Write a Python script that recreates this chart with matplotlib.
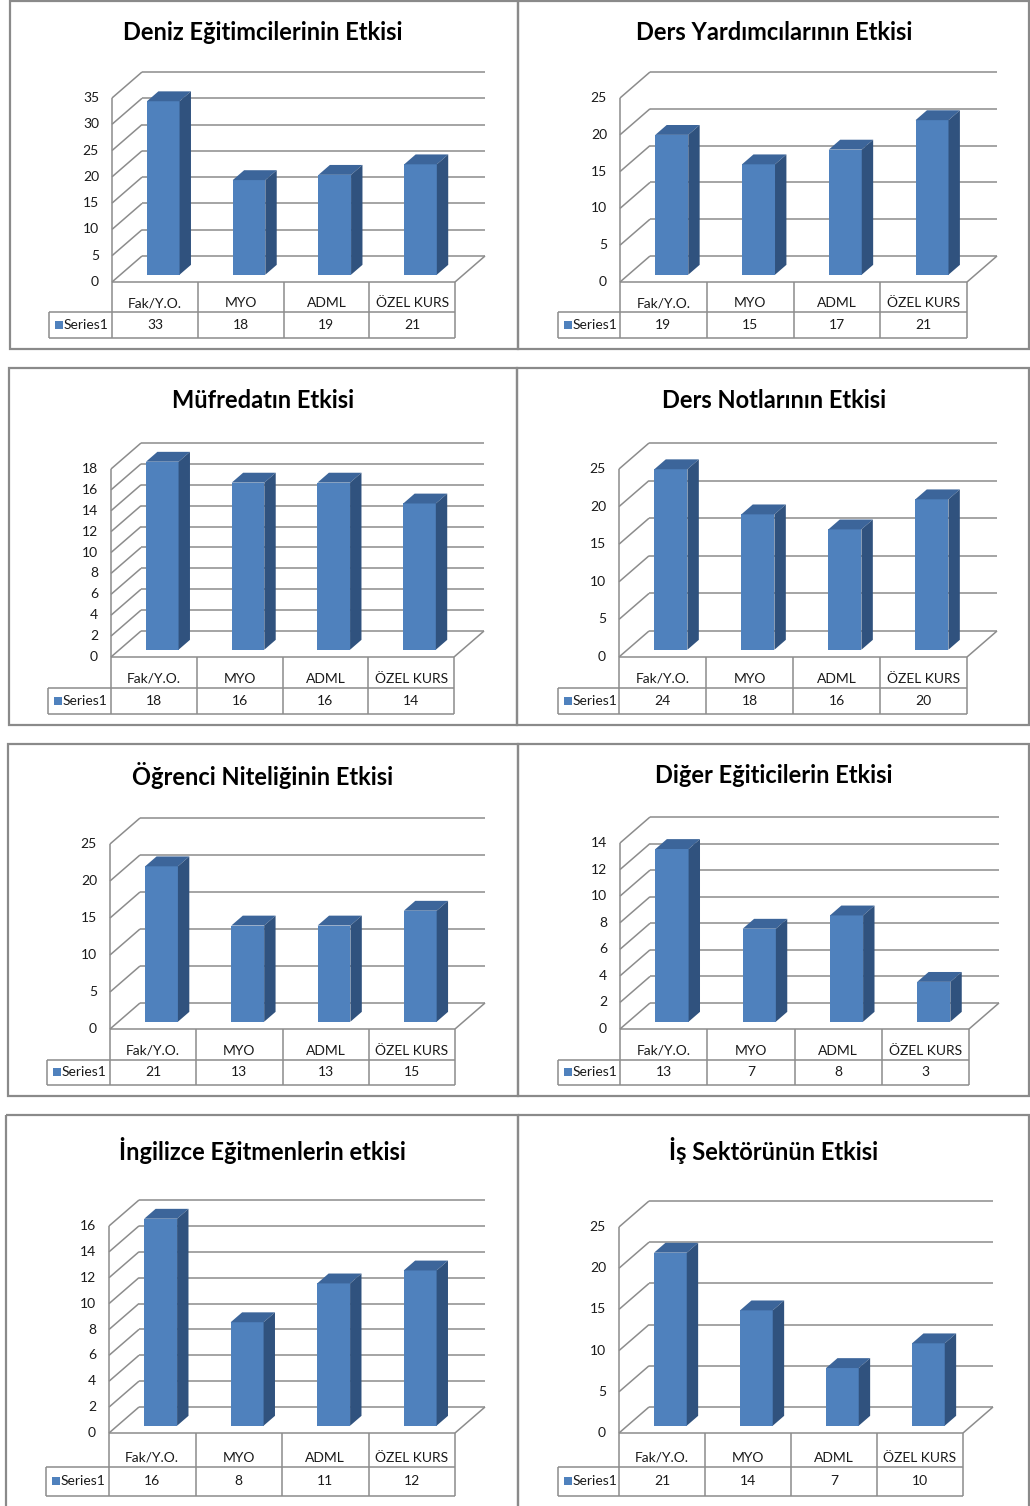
import matplotlib
matplotlib.use("Agg")
import matplotlib.pyplot as plt
from matplotlib.patches import Polygon, Rectangle
from matplotlib.transforms import Affine2D, blended_transform_factory

# survey results: influence of each factor per school type
categories = ["Fak/Y.O.", "MYO", "ADML", "ÖZEL KURS"]
series_name = "Series1"

titles = [
    "Deniz Eğitimcilerinin Etkisi",
    "Ders Yardımcılarının Etkisi",
    "Müfredatın Etkisi",
    "Ders Notlarının Etkisi",
    "Öğrenci Niteliğinin Etkisi",
    "Diğer Eğiticilerin Etkisi",
    "İngilizce Eğitmenlerin etkisi",
    "İş Sektörünün Etkisi",
]

deniz = [33, 18, 19, 21]
ders_yardimci = [19, 15, 17, 21]
mufredat = [18, 16, 16, 14]
ders_notlari = [24, 18, 16, 20]
ogrenci = [21, 13, 13, 15]
diger = [13, 7, 8, 3]
ingilizce = [16, 8, 11, 12]
is_sektoru = [21, 14, 7, 10]

# y-axis maximum and tick step of each chart
y_max = [35, 25, 18, 25, 25, 14, 16, 25]
y_step = [5, 5, 2, 5, 5, 2, 2, 5]

values = [deniz, ders_yardimci, mufredat, ders_notlari,
          ogrenci, diger, ingilizce, is_sektoru]

W, H = 1030, 1506
fig = plt.figure(figsize=(W / 100, H / 100), dpi=100)
fig.patch.set_facecolor("white")
plt.rcParams["font.family"] = ["Liberation Sans Narrow", "Lato", "DejaVu Sans"]

# pixel coordinates, origin at the top-left corner
pix = Affine2D().scale(1 / W, -1 / H).translate(0, 1) + fig.transFigure

GRID = "#8c8c8c"
FRONT = "#4f81bd"
TOP = "#3c659a"
SIDE = "#30527e"
TXT = "#1a1a1a"

# layout of each chart: plot area x0, x1, floor y, top y, frame, legend cell left, table rows
layout = [
    dict(x0=112, x1=455, yf=282, yt=98, box=(10, 1, 518, 349), cx=263, ty=32, lg=49, r1=312, r2=338),
    dict(x0=620, x1=967, yf=282, yt=98, box=(518, 1, 1029, 349), cx=774, ty=32, lg=558, r1=312, r2=338),
    dict(x0=111, x1=454, yf=657, yt=469, box=(9, 368, 517, 725), cx=263, ty=401, lg=48, r1=688, r2=714),
    dict(x0=619, x1=967, yf=657, yt=469, box=(517, 368, 1029, 725), cx=774, ty=401, lg=558, r1=688, r2=714),
    dict(x0=110, x1=455, yf=1029, yt=844, box=(8, 744, 518, 1096), cx=263, ty=776, lg=47, r1=1060, r2=1085),
    dict(x0=620, x1=969, yf=1029, yt=843, box=(518, 744, 1029, 1096), cx=774, ty=776, lg=558, r1=1060, r2=1085),
    dict(x0=109, x1=455, yf=1433, yt=1226, box=(6, 1115, 518, 1510), cx=262, ty=1151, lg=46, r1=1467, r2=1496),
    dict(x0=619, x1=963, yf=1433, yt=1227, box=(518, 1115, 1029, 1510), cx=774, ty=1151, lg=558, r1=1467, r2=1496),
]

DX, DY = 30, 26          # depth of the 3-D box in pixels
D0, D1 = 0.28, 0.66      # bar depth range (fraction of box depth)
BW = 0.38                # bar width in category units

for k, L in enumerate(layout):
    vals = values[k]
    ymax = y_max[k]
    x0, x1, yf, yt = L["x0"], L["x1"], L["yf"], L["yt"]

    # frame around the chart
    bl, bt, br, bb = L["box"]
    fig.add_artist(Rectangle((bl, bt), br - bl, bb - bt, transform=pix, fill=False,
                             edgecolor="#8a8a8a", lw=1.6))
    fig.text(L["cx"], L["ty"], titles[k], transform=pix, ha="center", va="center",
             fontsize=17, fontweight="bold", color="black")

    ax = fig.add_axes([x0 / W, 1 - yf / H, (x1 - x0) / W, (yf - yt) / H])
    ax.set_xlim(-0.5, len(categories) - 0.5)
    ax.set_ylim(0, ymax)
    ax.axis("off")

    ppx = (x1 - x0) / len(categories)
    ppy = (yf - yt) / ymax

    def off(d):
        return d * DX / ppx, d * DY / ppy

    ox, oy = off(1.0)
    left, right = -0.5, len(categories) - 0.5
    gkw = dict(color=GRID, lw=1.1, clip_on=False, solid_capstyle="butt")

    ticks = list(range(0, ymax + 1, y_step[k]))
    for t in ticks:
        ax.plot([left + ox, right + ox], [t + oy, t + oy], **gkw)
        ax.plot([left, left + ox], [t, t + oy], **gkw)
        ax.text(left, t, str(t), transform=ax.transData + Affine2D().translate(-13, 0),
                ha="right", va="center", fontsize=10, color=TXT)
    # front-left edge and floor
    ax.plot([left, left], [0, ymax], **gkw)
    ax.plot([left, right], [0, 0], **gkw)
    ax.plot([right, right + ox], [0, oy], **gkw)

    # bars
    ax0, ay0 = off(D0)
    ax1, ay1 = off(D1)
    for i, v in enumerate(vals):
        xl, xr = i - BW / 2, i + BW / 2
        front = Rectangle((xl + ax0, ay0), BW, v, facecolor=FRONT, edgecolor="none",
                          clip_on=False, zorder=3)
        top = Polygon([(xl + ax0, v + ay0), (xr + ax0, v + ay0), (xr + ax1, v + ay1),
                       (xl + ax1, v + ay1)], closed=True, facecolor=TOP, edgecolor="none",
                      clip_on=False, zorder=3)
        side = Polygon([(xr + ax0, ay0), (xr + ax1, ay1), (xr + ax1, v + ay1),
                        (xr + ax0, v + ay0)], closed=True, facecolor=SIDE, edgecolor="none",
                       clip_on=False, zorder=3)
        for p in (front, top, side):
            ax.add_patch(p)

    # data table under the chart
    tr = blended_transform_factory(ax.transData, pix)
    r1, r2 = L["r1"], L["r2"]
    for j in range(len(categories) + 1):
        ax.plot([left + j, left + j], [yf, r2], transform=tr, **gkw)
    ax.plot([L["lg"], x1], [r1, r1], transform=pix, **gkw)
    ax.plot([L["lg"], x1], [r2, r2], transform=pix, **gkw)
    ax.plot([L["lg"], L["lg"]], [r1, r2], transform=pix, **gkw)
    for i, (c, v) in enumerate(zip(categories, vals)):
        ax.text(i, r1 - 9, c, transform=tr, ha="center", va="center", fontsize=10, color=TXT)
        ax.text(i, (r1 + r2) / 2, str(v), transform=tr, ha="center", va="center",
                fontsize=10, color=TXT)
    mid = (r1 + r2) / 2
    fig.add_artist(Rectangle((L["lg"] + 6, mid - 4), 8, 8, transform=pix,
                             facecolor=FRONT, edgecolor="none"))
    fig.text(L["lg"] + 15, mid, series_name, transform=pix, ha="left", va="center",
             fontsize=10, color=TXT)

fig.savefig("out.png", dpi=100, facecolor="white")
